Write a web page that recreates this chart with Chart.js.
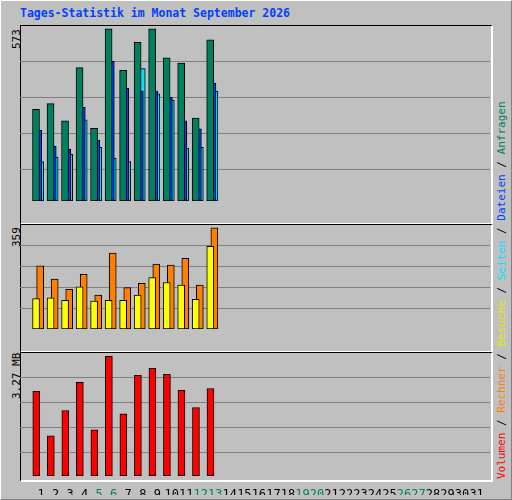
<!DOCTYPE html>
<html><head><meta charset="utf-8">
<script src="https://cdn.jsdelivr.net/npm/chart.js@4"></script>
<style>
body{margin:0;background:#fff;}
#wrap{position:absolute;left:0;top:0;width:510px;height:498px;background:#c0c0c0;border-top:1px solid #fff;border-left:1px solid #fff;border-right:1px solid #808080;border-bottom:1px solid #808080;font-family:"DejaVu Sans Mono",monospace;}
.t{position:absolute;white-space:nowrap;}
.frame{position:absolute;border-top:1px solid #000;border-left:1px solid #000;border-right:2px solid #fff;border-bottom:2px solid #fff;box-sizing:border-box;}
canvas{position:absolute;display:block;}
.rot{transform-origin:0 0;transform:rotate(-90deg);font-size:11px;}
</style></head><body>
<div id="wrap">
<div class="t" style="left:19px;top:5px;color:#0040ff;font-weight:bold;font-size:11.5px;">Tages-Statistik im Monat September 2026</div>
<div class="frame" style="left:19px;top:24px;width:473px;height:200px;"></div>
<div class="frame" style="left:19px;top:223px;width:473px;height:129px;"></div>
<div class="frame" style="left:19px;top:351px;width:473px;height:130px;"></div>
<div class="t rot" style="left:9px;top:48px;">573</div>
<div class="t rot" style="left:9px;top:246px;">359</div>
<div class="t rot" style="left:9px;top:398px;">3.27 MB</div>
<div class="t rot" style="left:494px;top:478px;"><span style="color:#ff0000">Volumen</span> / <span style="color:#ff8000">Rechner</span> / <span style="color:#e8e800">Besuche</span> / <span style="color:#00e0ff">Seiten</span> / <span style="color:#0040ff">Dateien</span> / <span style="color:#008060">Anfragen</span></div>
<canvas id="c1" width="470" height="195" style="left:19px;top:24px;width:470px;height:195px;"></canvas>
<canvas id="c2" width="470" height="123" style="left:19px;top:224px;width:470px;height:123px;"></canvas>
<canvas id="c3" width="470" height="142" style="left:19px;top:352px;width:470px;height:142px;"></canvas>
</div>
<script>
const days=[1,2,3,4,5,6,7,8,9,10,11,12,13];
const anfragen=[305,324,267,444,242,573,435,528,573,477,459,276,537];
const dateien=[236,182,173,312,203,465,375,366,366,345,267,240,393];
const seiten=[131,146,155,270,179,143,131,441,357,336,176,179,366];
const besuche=[108,111,102,150,99,102,102,120,182,165,156,105,293];
const rechner=[224,177,141,194,120,269,147,162,230,227,251,156,359];
const volumen=[2.31,1.10,1.79,2.56,1.26,3.27,1.70,2.75,2.94,2.78,2.34,1.87,2.39];
const tickDays=Array.from({length:31},(_,i)=>i+1);
const weekend=[5,6,12,13,19,20,26,27];
function ds(vals,off,color){return {data:vals.map((v,i)=>({x:days[i]+off,y:v})),backgroundColor:color,borderColor:'#000',borderWidth:1,barThickness:7,grouped:false,borderSkipped:false};}
function make(id,sets,max,grid,showX){
  new Chart(document.getElementById(id),{type:'bar',data:{datasets:sets},
  options:{responsive:false,devicePixelRatio:1,animation:false,layout:{padding:0},
   plugins:{legend:{display:false},tooltip:{enabled:false}},
   scales:{
    x:{type:'linear',min:0.0667,max:31.4,display:showX,grid:{display:false},border:{display:false},
       afterBuildTicks:s=>{s.ticks=tickDays.map(v=>({value:v}));},
       afterFit:s=>{s.height=19;},
       ticks:{autoSkip:false,maxRotation:0,padding:4,font:{family:'DejaVu Sans Mono',size:12},
         color:c=>weekend.includes(c.tick.value)?'#008060':'#000',callback:v=>String(v)}},
    y:{min:0,max:max,border:{display:false},grid:{color:'#808080',lineWidth:1,drawTicks:false},
       afterBuildTicks:s=>{s.ticks=grid.map(v=>({value:v}));},
       afterFit:s=>{s.width=0;},ticks:{display:false}}
   }}});
}
make('c1',[ds(anfragen,-0.353,'#008060'),ds(dateien,-0.2,'#0040ff'),ds(seiten,-0.067,'#00e0ff')],586,[105,225,346,466],false);
make('c2',[ds(besuche,-0.35,'#ffff00'),ds(rechner,-0.067,'#ff8000')],369,[72,147,221,296],false);
make('c3',[ds(volumen,-0.333,'#ff0000')],3.36,[0.64,1.33,2.01,2.70],true);
</script>
</body></html>
